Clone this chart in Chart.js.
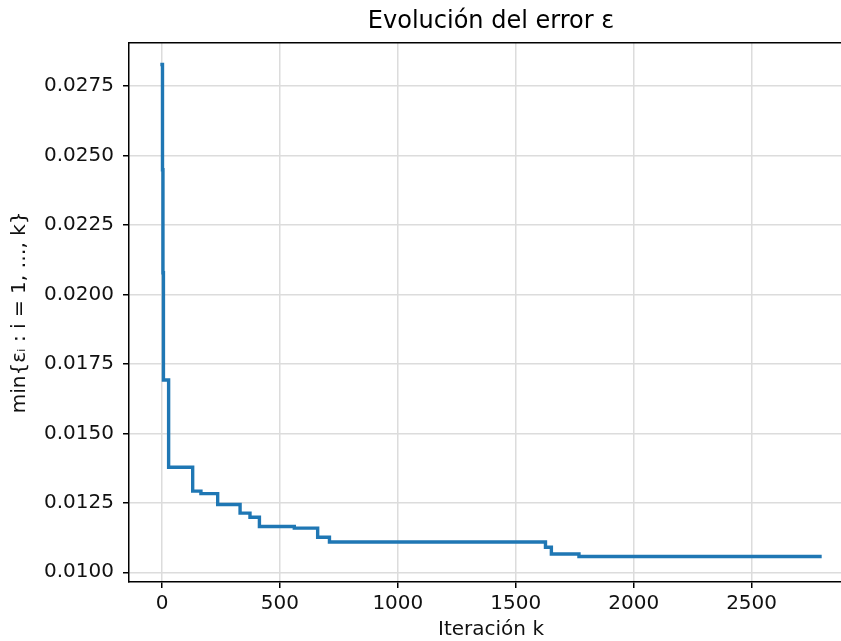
<!DOCTYPE html>
<html>
<head>
<meta charset="utf-8">
<script src="https://cdn.jsdelivr.net/npm/chart.js@4.4.1/dist/chart.umd.min.js"></script>
<style>
  html, body { margin: 0; padding: 0; background: #fff; overflow: hidden; }
  #wrap { width: 860px; height: 641px; }
</style>
</head>
<body>
<div id="wrap"><canvas id="chart" width="860" height="641"></canvas></div>
<script>
// breakpoints of the running minimum (iteration k, min error so far)
const iterations = [0, 2, 4, 6, 28, 130, 165, 236, 331, 373, 413, 561, 660, 710, 1626, 1651, 1768, 2790];
const errors = [0.02828, 0.02449, 0.02078, 0.01692, 0.01378, 0.01292, 0.01283, 0.01244, 0.01213, 0.01198,
                0.01165, 0.01159, 0.01126, 0.01109, 0.01090, 0.01066, 0.01057, 0.01057];
const xTicks = [0, 500, 1000, 1500, 2000, 2500];
const yTicks = [0.0100, 0.0125, 0.0150, 0.0175, 0.0200, 0.0225, 0.0250, 0.0275];

const points = iterations.map((k, i) => ({ x: k, y: errors[i] }));
const font = 'DejaVu Sans';

// top spine (matplotlib box); right spine is cropped off in the reference
const topSpine = {
  id: 'topSpine',
  afterDraw(chart) {
    const { ctx, chartArea } = chart;
    ctx.save();
    ctx.strokeStyle = '#000';
    ctx.lineWidth = 1.5;
    ctx.beginPath();
    ctx.moveTo(chartArea.left, chartArea.top);
    ctx.lineTo(chartArea.right + 10, chartArea.top);
    ctx.stroke();
    ctx.restore();
  }
};

new Chart(document.getElementById('chart'), {
  type: 'line',
  data: {
    datasets: [{
      data: points,
      borderColor: '#1f77b4',
      borderWidth: 3.4,
      borderCapStyle: 'square',
      stepped: 'before',
      pointRadius: 0,
      fill: false
    }]
  },
  options: {
    responsive: false,
    animation: false,
    layout: { padding: { left: 0, right: 7, top: 0, bottom: 0 } },
    plugins: {
      legend: { display: false },
      tooltip: { enabled: false },
      title: {
        display: true,
        fullSize: false,
        text: 'Evolución del error ε',
        color: '#000',
        font: { family: font, size: 24, weight: 'normal' },
        padding: { top: 7, bottom: 7 }
      }
    },
    scales: {
      x: {
        type: 'linear',
        min: -140,
        max: 2930,
        afterFit(scale) { scale.height = 59; },
        afterBuildTicks(scale) { scale.ticks = xTicks.map(v => ({ value: v })); },
        grid: { color: '#dcdcdc', lineWidth: 1.5, tickColor: '#000', tickWidth: 1.5, tickLength: 6 },
        border: { color: '#000', width: 1.5 },
        ticks: { color: '#111', font: { family: font, size: 20 }, padding: 4, maxRotation: 0,
                 callback: v => String(v) },
        title: { display: true, text: 'Iteración k', color: '#111',
                 font: { family: font, size: 20 }, padding: { top: 0, bottom: -1 } }
      },
      y: {
        type: 'linear',
        min: 0.00965,
        max: 0.02906,
        afterFit(scale) { scale.width = 129; },
        afterBuildTicks(scale) { scale.ticks = yTicks.map(v => ({ value: v })); },
        grid: { color: '#dcdcdc', lineWidth: 1.5, tickColor: '#000', tickWidth: 1.5, tickLength: 6 },
        border: { color: '#000', width: 1.5 },
        ticks: { color: '#111', font: { family: font, size: 20 }, padding: 9,
                 callback: v => v.toFixed(4) },
        title: { display: true, text: 'min{εᵢ : i = 1, …, k}', color: '#111',
                 font: { family: font, size: 20 }, padding: { top: 8, bottom: 0 } }
      }
    }
  },
  plugins: [topSpine]
});
</script>
</body>
</html>
